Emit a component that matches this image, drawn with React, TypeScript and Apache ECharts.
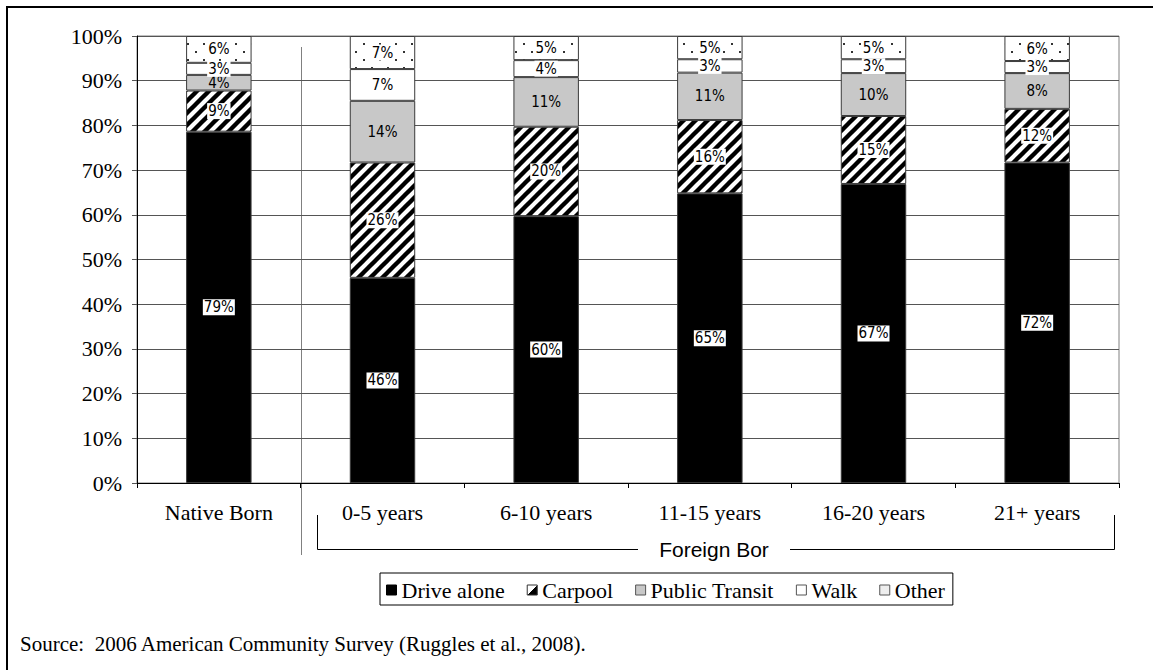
import React, { useEffect, useRef } from 'react';
import * as echarts from 'echarts';

const categories = ['Native Born', '0-5 years', '6-10 years', '11-15 years', '16-20 years', '21+ years'];
const driveAlone = [78.6, 45.9, 59.7, 64.8, 66.9, 71.7];
const carpool = [9.2, 25.8, 20.0, 16.4, 15.2, 12.0];
const publicTransit = [3.5, 13.8, 11.1, 10.6, 9.6, 8.0];
const walk = [2.7, 7.1, 3.8, 3.0, 3.1, 2.7];
const other = [6.0, 7.4, 5.4, 5.2, 5.2, 5.6];
const seriesNames = ['Drive alone', 'Carpool', 'Public Transit', 'Walk', 'Other'];
const groupLabel = 'Foreign Bor';
const sourceText = 'Source:  2006 American Community Survey (Ruggles et al., 2008).';

const SERIF = "'Liberation Serif', 'Times New Roman', serif";
const SANS = "'Liberation Sans', Arial, sans-serif";
const NARROW = "'Liberation Sans Narrow', 'Arial Narrow', 'DejaVu Sans Condensed', 'Liberation Sans', sans-serif";

function makeStripes() {
  const s = 12;
  const c = document.createElement('canvas');
  c.width = s; c.height = s;
  const ctx = c.getContext('2d')!;
  ctx.fillStyle = '#fff';
  ctx.fillRect(0, 0, s, s);
  ctx.strokeStyle = '#000';
  ctx.lineWidth = 4.4;
  for (const k of [0, s, 2 * s]) {
    ctx.beginPath();
    ctx.moveTo(-2, k + 2);
    ctx.lineTo(k + 2, -2);
    ctx.stroke();
  }
  return { image: c.toDataURL(), repeat: 'repeat', imageWidth: s, imageHeight: s };
}

function makeDots() {
  const w = 16, h = 16;
  const c = document.createElement('canvas');
  c.width = w; c.height = h;
  const ctx = c.getContext('2d')!;
  ctx.fillStyle = '#fff';
  ctx.fillRect(0, 0, w, h);
  ctx.fillStyle = '#333';
  ctx.fillRect(3, 3, 2, 2);
  ctx.fillRect(11, 11, 2, 2);
  return { image: c.toDataURL(), repeat: 'repeat', imageWidth: w, imageHeight: h };
}

export default function App() {
  const ref = useRef<HTMLDivElement>(null);
  useEffect(() => {
    if (!ref.current) return;
    const chart = echarts.init(ref.current, null, { renderer: 'svg' });
    const W = 1153, H = 670;
    const gl = 137, gr = 34, gt = 36, gb = 187;
    const plotW = W - gl - gr;
    const catW = plotW / categories.length;
    const sepX = Math.round(gl + catW) + 0.5;

    const stripes = makeStripes();
    const dots = makeDots();
    const colors: any[] = ['#000', stripes, '#c8c8c8', '#fff', dots];
    const dataSets = [driveAlone, carpool, publicTransit, walk, other];

    const series = seriesNames.map((name, i) => ({
      name,
      type: 'bar',
      stack: 'total',
      barWidth: '40%',
      data: dataSets[i],
      itemStyle: { color: colors[i], borderColor: '#3a3a3a', borderWidth: 1 },
      label: {
        show: true,
        position: 'inside',
        formatter: (p: any) => Math.round(p.value) + '%',
        color: '#000',
        fontFamily: NARROW,
        fontSize: 15,
        lineHeight: 15,
        backgroundColor: i === 2 ? 'transparent' : '#fff',
        padding: [1, 1, 0, 1],
      },
    }));

    const legendIcons: any[] = [
      { color: '#000', borderColor: '#000', borderWidth: 1 },
      {
        color: {
          type: 'linear', x: 0, y: 0, x2: 1, y2: 1,
          colorStops: [
            { offset: 0, color: '#fff' }, { offset: 0.5, color: '#fff' },
            { offset: 0.5, color: '#000' }, { offset: 1, color: '#000' },
          ],
        },
        borderColor: '#333', borderWidth: 1,
      },
      { color: '#c8c8c8', borderColor: '#555', borderWidth: 1 },
      { color: '#fff', borderColor: '#555', borderWidth: 1 },
      { color: '#eeeeee', borderColor: '#555', borderWidth: 1 },
    ];

    const lx1 = 317.5, lx2 = 1114.5, ly = 549.5, ltop = 515;
    const textCx = 714;

    chart.setOption({
      animation: false,
      backgroundColor: '#fff',
      grid: {
        left: gl, right: gr, top: gt, bottom: gb,
        show: true, borderColor: '#808080', borderWidth: 1, backgroundColor: 'transparent',
      },
      legend: {
        left: 380, top: 573,
        orient: 'horizontal',
        borderColor: '#000', borderWidth: 1,
        padding: [6, 8, 4, 6],
        itemWidth: 10, itemHeight: 10, itemGap: 22,
        selectedMode: false,
        textStyle: { fontFamily: SERIF, fontSize: 22, color: '#000' },
        data: seriesNames.map((n, i) => ({ name: n, icon: 'rect', itemStyle: legendIcons[i] })),
      },
      xAxis: {
        type: 'category',
        data: categories,
        axisLine: { lineStyle: { color: '#000', width: 1 } },
        axisTick: { show: true, length: 5, alignWithLabel: false, lineStyle: { color: '#000' } },
        axisLabel: { fontFamily: SERIF, fontSize: 22, color: '#000', margin: 18 },
      },
      yAxis: {
        type: 'value',
        min: 0, max: 100, interval: 10,
        axisLine: { show: true, lineStyle: { color: '#000', width: 1 } },
        axisTick: { show: true, length: 5, lineStyle: { color: '#555' } },
        axisLabel: { fontFamily: SERIF, fontSize: 22, color: '#000', margin: 15, formatter: '{value}%' },
        splitLine: { show: true, lineStyle: { color: '#555', width: 1 } },
      },
      series,
      graphic: [
        { type: 'line', shape: { x1: 6, y1: 7, x2: W, y2: 7 }, style: { stroke: '#000', lineWidth: 2 }, silent: true },
        { type: 'line', shape: { x1: 7, y1: 6, x2: 7, y2: H }, style: { stroke: '#000', lineWidth: 2 }, silent: true },
        { type: 'line', shape: { x1: sepX, y1: 47, x2: sepX, y2: 555 }, style: { stroke: '#808080', lineWidth: 1 }, silent: true },
        { type: 'polyline', shape: { points: [[lx1, ltop], [lx1, ly], [638, ly]] }, style: { stroke: '#000', lineWidth: 1, fill: 'none' }, silent: true },
        { type: 'polyline', shape: { points: [[790, ly], [lx2, ly], [lx2, ltop]] }, style: { stroke: '#000', lineWidth: 1, fill: 'none' }, silent: true },
        {
          type: 'text', x: textCx, y: ly, silent: true,
          style: { text: groupLabel, fontFamily: SANS, fontSize: 21, fill: '#000', align: 'center', verticalAlign: 'middle' },
        },
        {
          type: 'text', x: 20, y: 644, silent: true,
          style: { text: sourceText, fontFamily: SERIF, fontSize: 21, fill: '#000', align: 'left', verticalAlign: 'middle' },
        },
      ],
    });
    return () => chart.dispose();
  }, []);
  return (
    <div
      ref={ref}
      style={{ position: 'fixed', left: 0, top: 0, width: 1153, height: 670, background: '#fff' }}
    />
  );
}
